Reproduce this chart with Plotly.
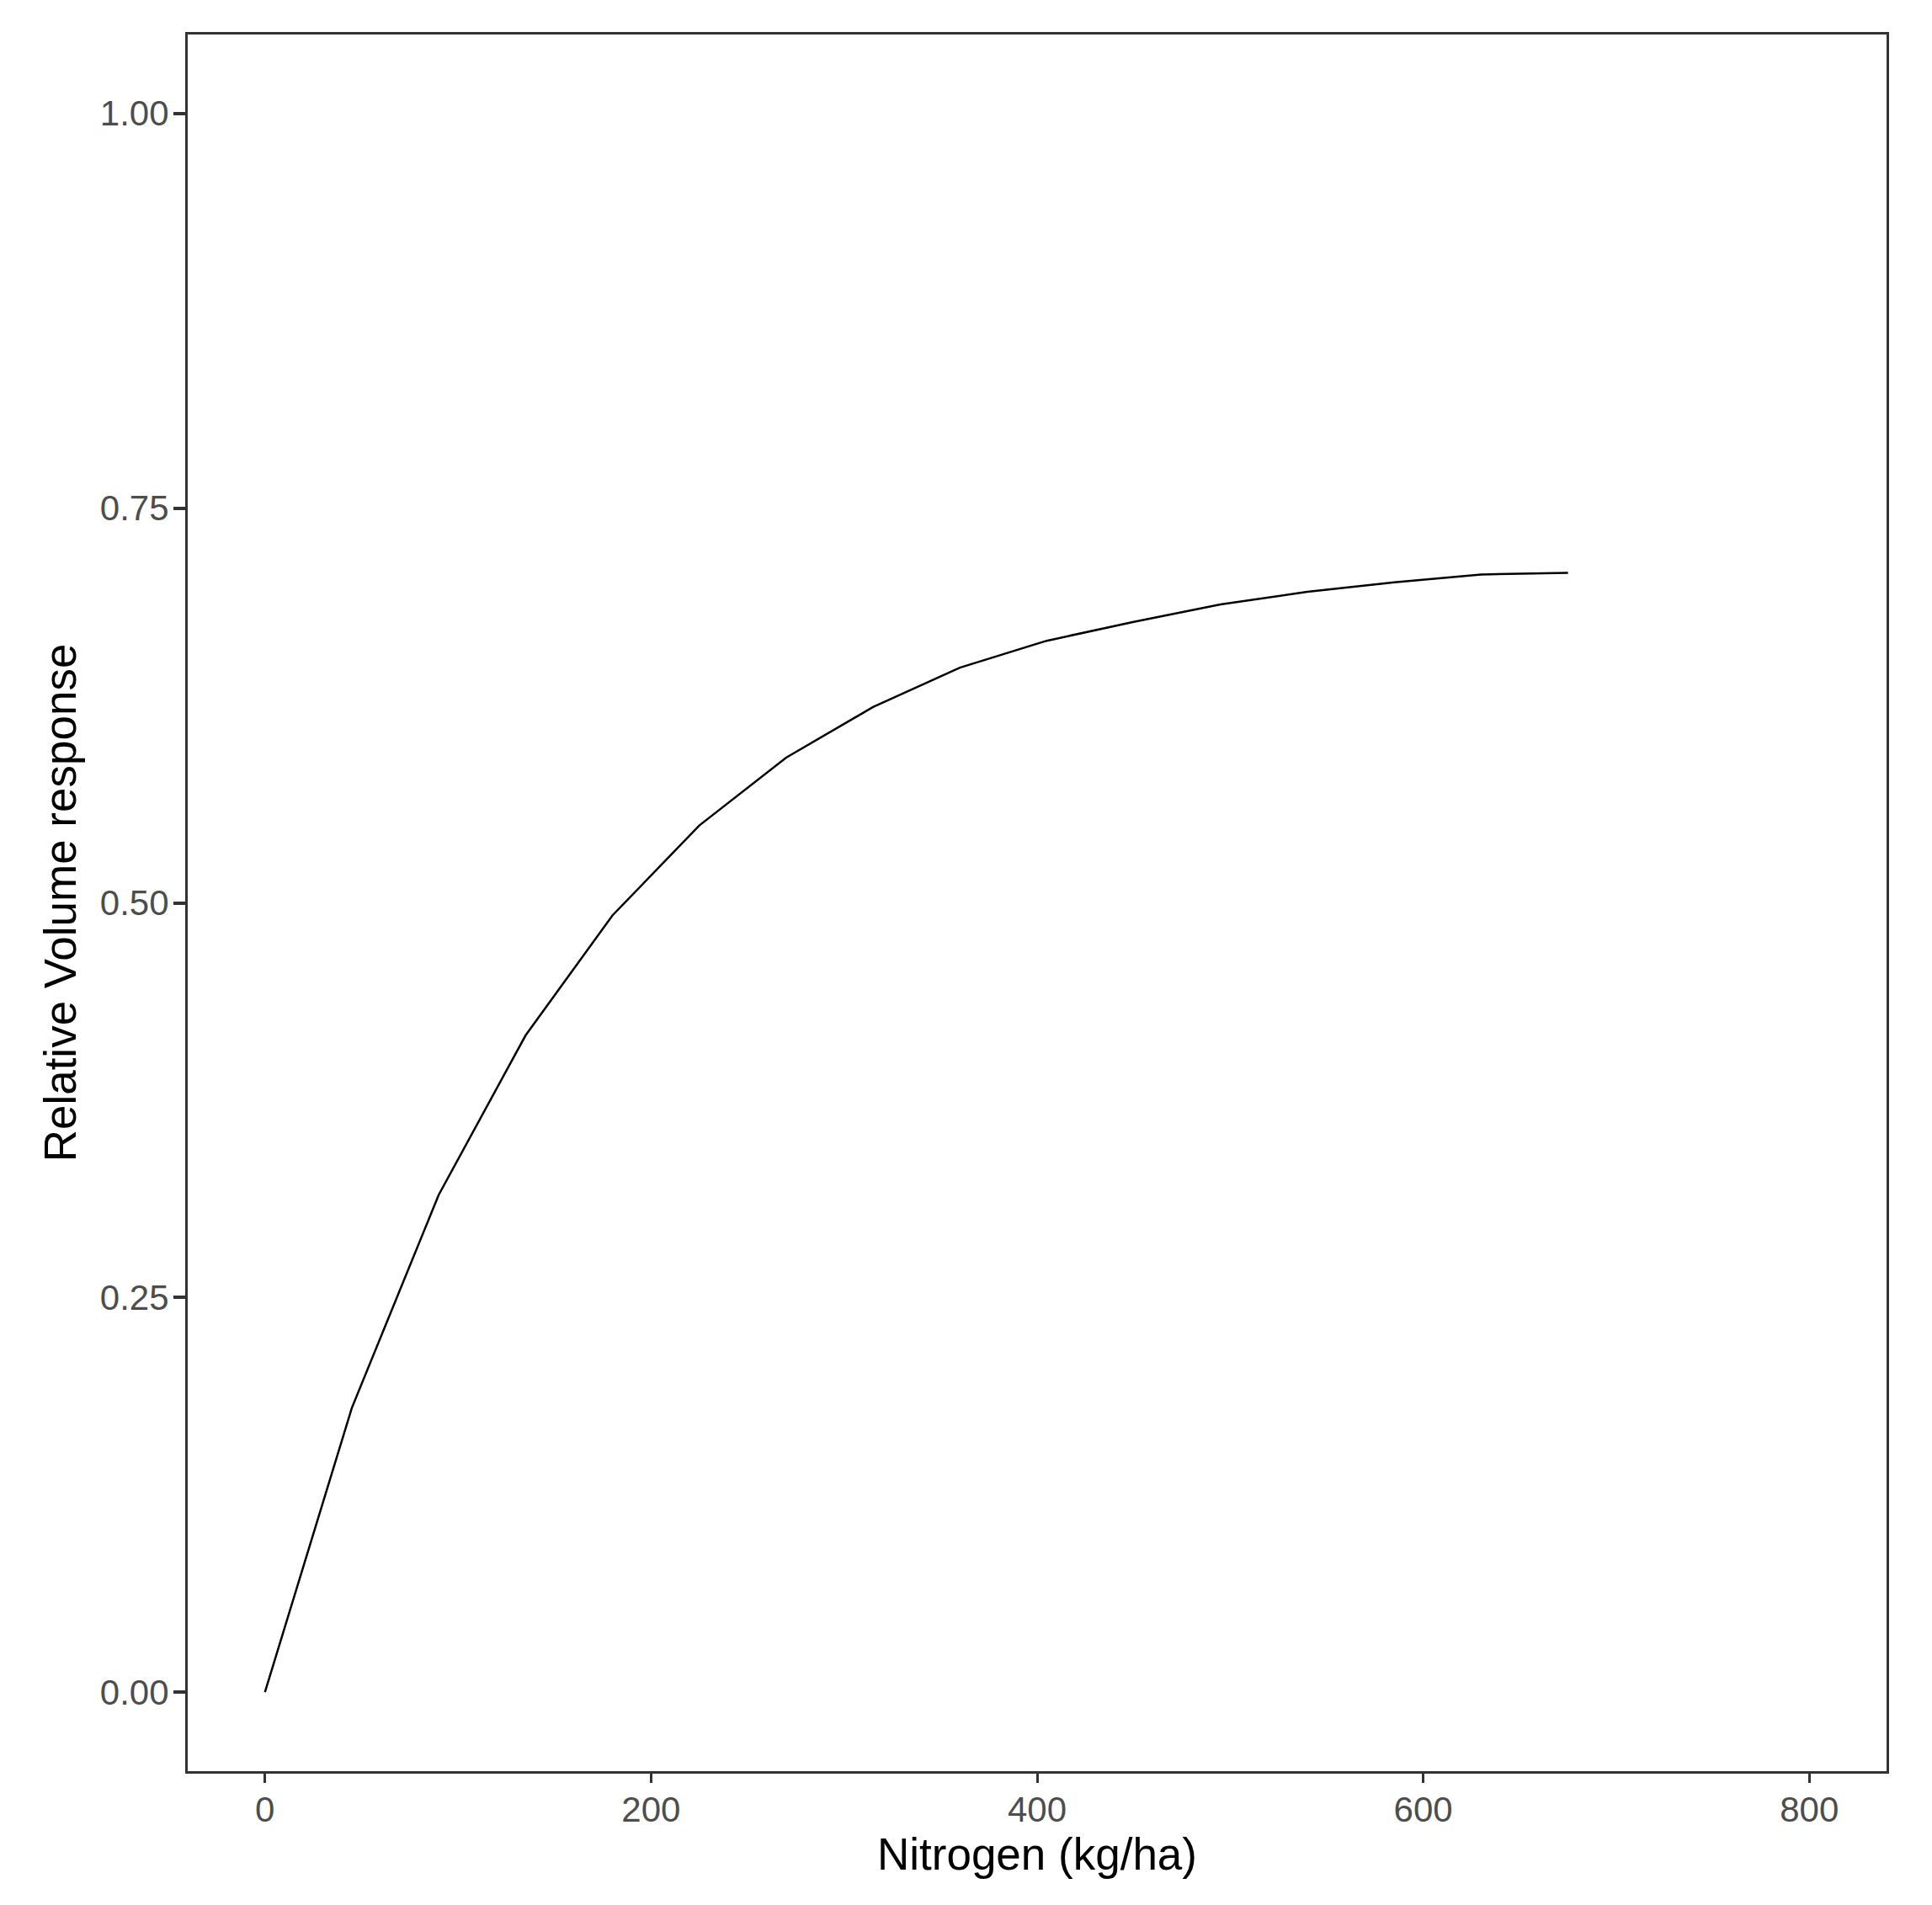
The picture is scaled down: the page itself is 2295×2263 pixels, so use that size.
import plotly.graph_objects as go

# Data
nitrogen = [0, 45, 90, 135, 180, 225, 270, 315, 360, 405, 450, 495, 540, 585, 630, 675]
response = [0.000, 0.180, 0.315, 0.416, 0.492, 0.549, 0.592, 0.624, 0.649, 0.666,
            0.678, 0.689, 0.697, 0.703, 0.708, 0.709]

x_ticks = [0, 200, 400, 600, 800]
y_ticks = [0.0, 0.25, 0.5, 0.75, 1.0]
y_tick_text = ["0.00", "0.25", "0.50", "0.75", "1.00"]

FONT = "Liberation Sans, Arial, sans-serif"

fig = go.Figure()
fig.add_trace(go.Scatter(
    x=nitrogen, y=response, mode="lines",
    line=dict(color="black", width=2.5),
    showlegend=False,
))

# page body has an 8px margin, so the figure is drawn 8px in from the window edge
fig.update_layout(
    width=2279, height=2247,
    margin=dict(l=215, r=46, t=33, b=151),
    paper_bgcolor="white", plot_bgcolor="white",
    font=dict(family=FONT, color="black"),
)

fig.update_xaxes(
    range=[-40, 840],
    tickvals=x_ticks,
    ticks="outside", ticklen=11, tickwidth=3, tickcolor="#333333",
    tickfont=dict(size=42, color="#4D4D4D", family=FONT),
    ticklabelstandoff=-4,
    showline=True, linecolor="#333333", linewidth=3, mirror=True,
    showgrid=False, zeroline=False,
    title=dict(text="Nitrogen (kg/ha)", font=dict(size=53, color="black", family=FONT), standoff=12),
)
fig.update_yaxes(
    range=[-0.05, 1.05],
    tickvals=y_ticks, ticktext=y_tick_text,
    ticks="outside", ticklen=14, tickwidth=4, tickcolor="#333333",
    tickfont=dict(size=42, color="#4D4D4D", family=FONT),
    ticklabelstandoff=-3,
    showline=True, linecolor="#333333", linewidth=3, mirror=True,
    showgrid=False, zeroline=False,
    title=dict(text="Relative Volume response", font=dict(size=53, color="black", family=FONT), standoff=12),
)

fig.write_html("out.html")
